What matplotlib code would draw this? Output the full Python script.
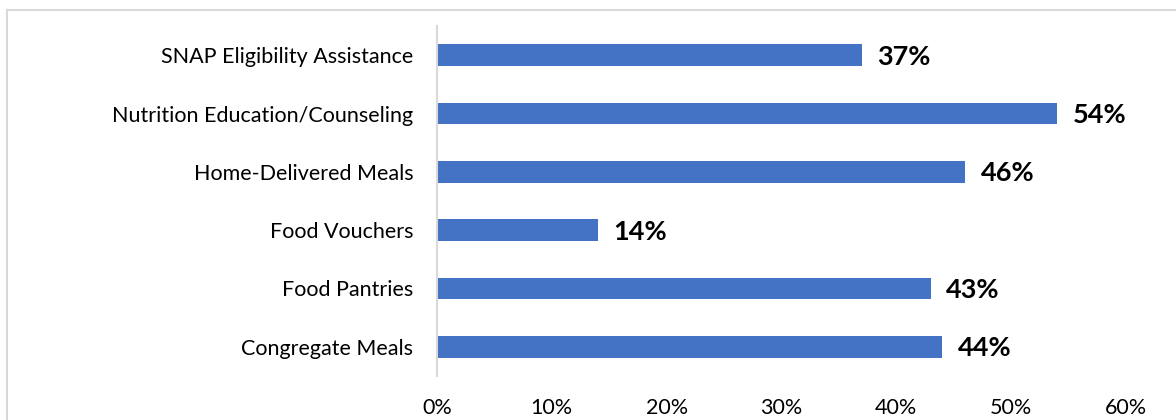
import matplotlib
matplotlib.use("Agg")
import matplotlib.pyplot as plt
from matplotlib.patches import Rectangle
from matplotlib.ticker import FuncFormatter, MultipleLocator

categories = [
    "Congregate Meals",
    "Food Pantries",
    "Food Vouchers",
    "Home-Delivered Meals",
    "Nutrition Education/Counseling",
    "SNAP Eligibility Assistance",
]
values = [44, 43, 14, 46, 54, 37]

plt.rcParams["font.family"] = ["Lato", "DejaVu Sans"]

fig = plt.figure(figsize=(11.76, 4.2), dpi=100)
ax = fig.add_axes([437 / 1176, 1 - 376 / 420, (1126 - 437) / 1176, 350 / 420])

ypos = list(range(len(categories)))
ax.barh(ypos, values, height=0.37, color="#4472C4", zorder=2)

for y, v in zip(ypos, values):
    ax.annotate(f"{v}%", xy=(v, y), xytext=(11, -1), textcoords="offset points",
                ha="left", va="center", fontsize=19.5, fontweight="bold", color="black")

ax.set_xlim(0, 60)
ax.set_ylim(-0.5, len(categories) - 0.5)
ax.xaxis.set_major_locator(MultipleLocator(10))
ax.xaxis.set_major_formatter(FuncFormatter(lambda x, _: f"{x:.0f}%"))
ax.set_yticks(ypos)
ax.set_yticklabels(categories)

ax.tick_params(axis="x", length=0, pad=16, labelsize=15.5, labelcolor="black")
ax.tick_params(axis="y", length=0, pad=17, labelsize=15.5, labelcolor="black")

for side in ("top", "right", "bottom"):
    ax.spines[side].set_visible(False)
ax.spines["left"].set_color("#d9d9d9")
ax.spines["left"].set_linewidth(1.5)

# outer frame of the chart area
frame = Rectangle((7 / 1176, -0.1), 1.2, 1 - 10 / 420 + 0.1, transform=fig.transFigure,
                  fill=False, edgecolor="#d9d9d9", linewidth=1.5)
fig.patches.append(frame)

fig.savefig("out.png", dpi=100)
